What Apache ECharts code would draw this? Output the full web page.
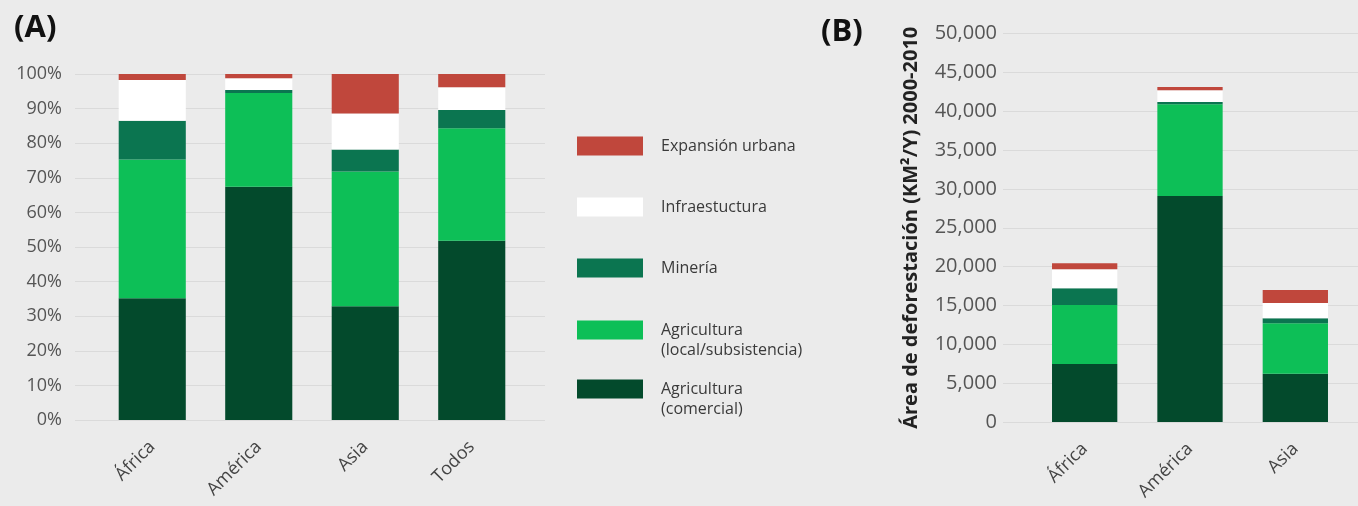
<!DOCTYPE html>
<html>
<head>
<meta charset="utf-8">
<script src="https://cdn.jsdelivr.net/npm/echarts@6/dist/echarts.min.js"></script>
<style>
html,body{margin:0;padding:0;background:#ebebeb;}
#chart{width:1358px;height:506px;}
</style>
</head>
<body>
<div id="chart"></div>
<script>
// ---- data ----
const categoriesA = ['África', 'América', 'Asia', 'Todos'];
const categoriesB = ['África', 'América', 'Asia'];
const seriesNames = ['Agricultura\n(comercial)', 'Agricultura\n(local/subsistencia)', 'Minería', 'Infraestuctura', 'Expansión urbana'];
const legendOrder = ['Expansión urbana', 'Infraestuctura', 'Minería', 'Agricultura\n(local/subsistencia)', 'Agricultura\n(comercial)'];
// Panel A: share of deforestation (%)
const pctComercial = [35.2, 67.4, 32.9, 51.8];
const pctLocal     = [40.1, 27.1, 38.9, 32.5];
const pctMineria   = [11.2, 0.9, 6.4, 5.3];
const pctInfra     = [11.8, 3.4, 10.4, 6.6];
const pctUrbana    = [1.7, 1.2, 11.4, 3.8];
// Panel B: deforestation area (km2/yr) 2000-2010
const areaComercial = [7450, 29100, 6200];
const areaLocal     = [7600, 11800, 6500];
const areaMineria   = [2150, 300, 650];
const areaInfra     = [2450, 1500, 1950];
const areaUrbana    = [770, 430, 1700];
const ticksA = { min: 0, max: 100, interval: 10 };
const ticksB = { min: 0, max: 50000, interval: 5000 };
const yAxisNameB = 'Área de deforestación (KM²/Y) 2000-2010';

// ---- styles ----
const colors = ['#034a2c', '#0dbf57', '#0b7550', '#ffffff', '#c0473c'];
const FONT = 'Open Sans';
const dataA = [pctComercial, pctLocal, pctMineria, pctInfra, pctUrbana];
const dataB = [areaComercial, areaLocal, areaMineria, areaInfra, areaUrbana];

const chart = echarts.init(document.getElementById('chart'), null, { renderer: 'canvas' });

const splitStyle = { show: true, lineStyle: { color: '#dadada', width: 1 } };

const series = [];
seriesNames.forEach((n, i) => {
  series.push({ name: n, type: 'bar', stack: 'A', xAxisIndex: 1, yAxisIndex: 1, barWidth: '63%',
    itemStyle: { color: colors[i] }, data: dataA[i], emphasis: { disabled: true } });
});
seriesNames.forEach((n, i) => {
  series.push({ name: n, type: 'bar', stack: 'B', xAxisIndex: 3, yAxisIndex: 3, barWidth: '62%',
    itemStyle: { color: colors[i] }, data: dataB[i], emphasis: { disabled: true } });
});

const legendCenters = [146, 207, 268, 330, 389];
const legends = legendOrder.map((n, i) => {
  const multi = n.indexOf('\n') >= 0;
  const lh = 20;
  const h = multi ? lh * 3 : lh;
  return {
    orient: 'vertical', left: 577, top: legendCenters[i] - h / 2, padding: 0,
    itemWidth: 66, itemHeight: 19, itemGap: 0, selectedMode: false,
    data: [{ name: n, icon: 'rect' }],
    formatter: name => (multi ? '\n' + name : name),
    textStyle: { fontFamily: FONT, fontSize: 16, color: '#3a3a3a', lineHeight: lh,
      padding: [0, 0, 0, 13] }
  };
});

const xLabel = { rotate: 45, margin: 24, fontFamily: FONT, fontSize: 18, color: '#444' };

const option = {
  backgroundColor: '#ebebeb',
  animation: false,
  title: [
    { text: '(A)', left: 14, top: 13, padding: 0, textStyle: { fontFamily: FONT, fontWeight: 'bold', fontSize: 31, color: '#111' } },
    { text: '(B)', left: 821, top: 17, padding: 0, textStyle: { fontFamily: FONT, fontWeight: 'bold', fontSize: 31, color: '#111' } }
  ],
  legend: legends,
  grid: [
    { left: 75, width: 470, top: 74, height: 346 },   // A background
    { left: 99, width: 426, top: 74, height: 346 },   // A bars
    { left: 1003, width: 355, top: 33.5, height: 388.5 }, // B background
    { left: 1032, width: 316, top: 33.5, height: 388.5 }  // B bars
  ],
  xAxis: [
    { gridIndex: 0, type: 'value', show: false },
    { gridIndex: 1, type: 'category', data: categoriesA, axisLine: { show: false }, axisTick: { show: false }, axisLabel: xLabel },
    { gridIndex: 2, type: 'value', show: false },
    { gridIndex: 3, type: 'category', data: categoriesB, axisLine: { show: false }, axisTick: { show: false }, axisLabel: xLabel }
  ],
  yAxis: [
    { gridIndex: 0, type: 'value', min: ticksA.min, max: ticksA.max, interval: ticksA.interval,
      axisLine: { show: false }, axisTick: { show: false }, splitLine: splitStyle,
      axisLabel: { formatter: '{value}%', margin: 13, fontFamily: FONT, fontSize: 18, color: '#555' } },
    { gridIndex: 1, type: 'value', min: ticksA.min, max: ticksA.max, interval: ticksA.interval, show: false, splitLine: { show: false } },
    { gridIndex: 2, type: 'value', min: ticksB.min, max: ticksB.max, interval: ticksB.interval,
      axisLine: { show: false }, axisTick: { show: false }, splitLine: splitStyle,
      name: yAxisNameB, nameLocation: 'middle', nameGap: 82,
      nameTextStyle: { fontFamily: FONT, fontWeight: 'bold', fontSize: 20, color: '#222' },
      axisLabel: { formatter: v => v.toLocaleString('en-US'), margin: 6, fontFamily: FONT, fontSize: 20, color: '#555' } },
    { gridIndex: 3, type: 'value', min: ticksB.min, max: ticksB.max, interval: ticksB.interval, show: false, splitLine: { show: false } }
  ],
  series: series
};
chart.setOption(option);
</script>
</body>
</html>
